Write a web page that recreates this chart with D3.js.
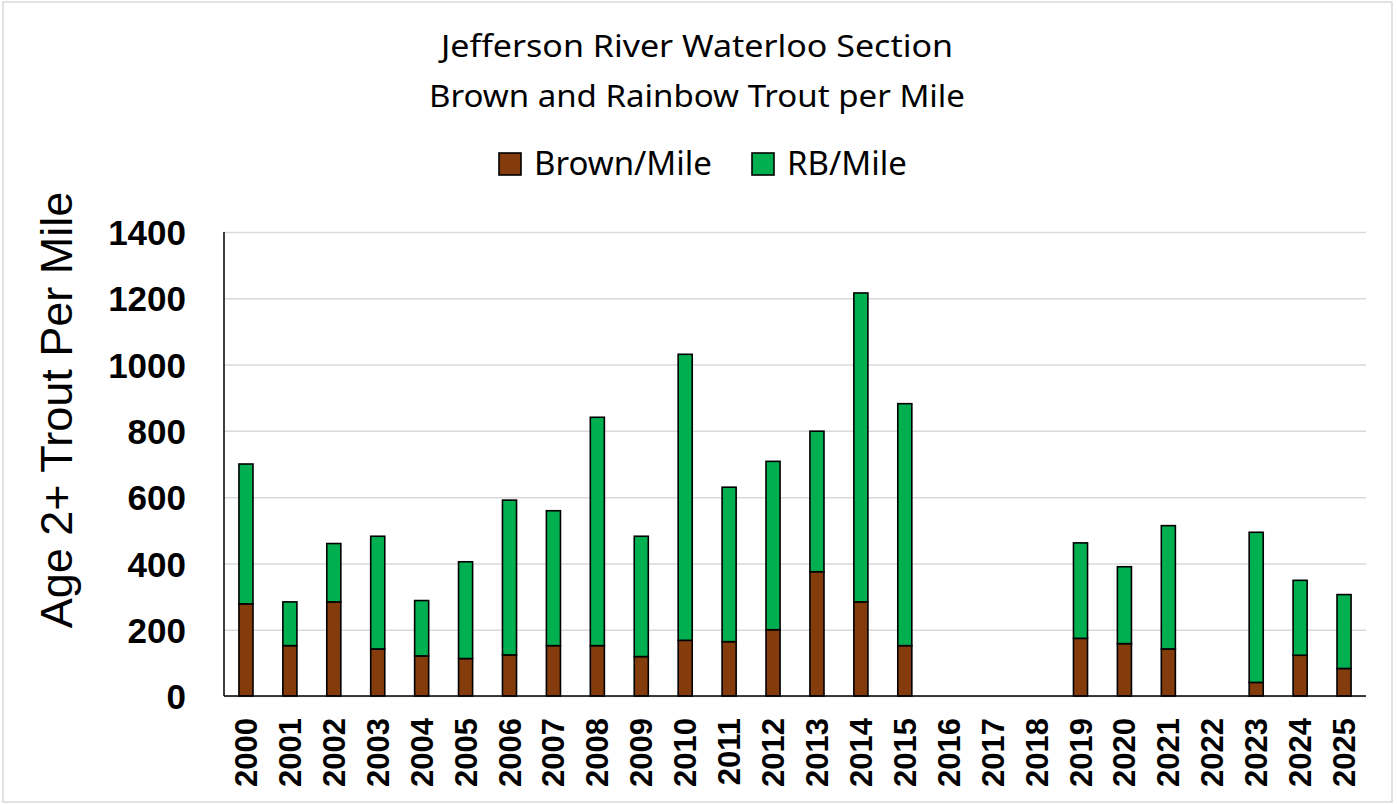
<!DOCTYPE html>
<html>
<head>
<meta charset="utf-8">
<script src="https://cdn.jsdelivr.net/npm/d3@7"></script>
<style>
  body { margin: 0; background: #fff; }
  svg { display: block; }
</style>
</head>
<body>
<svg width="1397" height="804"></svg>
<script>
// years along the bottom (2016-2018 and 2022 have no survey)
const years = ["2000","2001","2002","2003","2004","2005","2006","2007","2008","2009","2010","2011","2012",
  "2013","2014","2015","2016","2017","2018","2019","2020","2021","2022","2023","2024","2025"]

// brown trout per mile
const brown = [278,152,284,142,121,113,124,152,152,119,168,164,200,
  375,284,152,null,null,null,174,158,142,null,41,123,83]

// rainbow trout per mile (stacked on top)
const rainbow = [422,132,176,340,167,292,467,407,689,363,863,466,508,
  424,932,730,null,null,null,288,232,372,null,453,226,223]

const yTicks = [0,200,400,600,800,1000,1200,1400]

const seriesNames = ["Brown/Mile","RB/Mile"]
const seriesColors = ["#843C0C","#00B050"]

const svg = d3.select("svg")

// light frame round the chart
svg.append("rect")
  .attr("x", 3).attr("y", 2)
  .attr("width", 1389).attr("height", 800)
  .attr("fill", "#fff")
  .attr("stroke", "#d9d9d9")
  .attr("stroke-width", 1.5)

// scales
const scaleX = d3.scaleBand()
  .domain(years)
  .range([224, 1366])
  .paddingInner(0.68)
  .paddingOuter(0.34)

const scaleY = d3.scaleLinear()
  .domain([0, 1400])
  .range([696, 232])

// gridlines + y labels
const axisY = d3.axisLeft(scaleY)
  .tickValues(yTicks)
  .tickFormat(d3.format("d"))
  .tickSizeInner(-1142)
  .tickSizeOuter(0)
  .tickPadding(38)

const axisYGroup = svg.append("g")
  .attr("transform", "translate(224,0)")
  .call(axisY)

axisYGroup.select(".domain").remove()
axisYGroup.selectAll(".tick line")
  .attr("stroke", "#d9d9d9")
  .attr("stroke-width", 1.5)
axisYGroup.selectAll(".tick text")
  .attr("font-family", "'Liberation Sans', Arial, sans-serif")
  .attr("font-weight", "bold")
  .attr("font-size", 35)
  .attr("fill", "#000")
  .attr("dy", "0.36em")

// stacked data
const table = years.map((y, i) => ({ year: y, brown: brown[i], rainbow: rainbow[i] }))
  .filter(d => d.brown !== null)

const stacked = d3.stack().keys(["brown", "rainbow"])(table)

svg.append("g")
  .selectAll("g.series")
  .data(stacked)
  .enter()
  .append("g")
  .attr("class", "series")
  .attr("fill", (d, i) => seriesColors[i])
  .selectAll("rect")
  .data(d => d)
  .enter()
  .append("rect")
  .attr("x", d => scaleX(d.data.year))
  .attr("width", scaleX.bandwidth())
  .attr("y", d => scaleY(d[1]))
  .attr("height", d => scaleY(d[0]) - scaleY(d[1]))
  .attr("stroke", "#000")
  .attr("stroke-width", 1.6)

// axis lines
svg.append("line")
  .attr("x1", 224).attr("x2", 224)
  .attr("y1", 232).attr("y2", 696)
  .attr("stroke", "#000").attr("stroke-width", 1.5)
svg.append("line")
  .attr("x1", 224).attr("x2", 1366)
  .attr("y1", 696).attr("y2", 696)
  .attr("stroke", "#000").attr("stroke-width", 1.5)

// x labels, turned up
svg.append("g")
  .selectAll("text")
  .data(years)
  .enter()
  .append("text")
  .attr("transform", d => `translate(${scaleX(d) + scaleX.bandwidth() / 2 + 11}, 718) rotate(-90)`)
  .attr("text-anchor", "end")
  .attr("font-family", "'Liberation Sans', Arial, sans-serif")
  .attr("font-weight", "bold")
  .attr("font-size", 31)
  .text(d => d)

// y axis title
svg.append("text")
  .attr("transform", "translate(72,410) rotate(-90)")
  .attr("text-anchor", "middle")
  .attr("font-family", "'Liberation Sans', Arial, sans-serif")
  .attr("font-size", 45)
  .text("Age 2+ Trout Per Mile")

// chart title, two lines
const titleLines = ["Jefferson River Waterloo Section", "Brown and Rainbow Trout per Mile"]
const titleWidths = [512, 536]
svg.append("g")
  .selectAll("text")
  .data(titleLines)
  .enter()
  .append("text")
  .attr("x", (d, i) => 697 - titleWidths[i] / 2)
  .attr("y", (d, i) => 57 + i * 50)
  .attr("textLength", (d, i) => titleWidths[i])
  .attr("lengthAdjust", "spacingAndGlyphs")
  .attr("font-family", "'Noto Sans', sans-serif")
  .attr("font-size", 31)
  .text(d => d)

// legend
const legendX = [499, 752]
const legend = svg.append("g")
  .selectAll("g")
  .data(seriesNames)
  .enter()
  .append("g")
  .attr("transform", (d, i) => `translate(${legendX[i]},153)`)

legend.append("rect")
  .attr("width", 22).attr("height", 22)
  .attr("fill", (d, i) => seriesColors[i])
  .attr("stroke", "#000")
  .attr("stroke-width", 1.6)

legend.append("text")
  .attr("x", 35)
  .attr("y", 22)
  .attr("font-family", "'Noto Sans', sans-serif")
  .attr("font-size", 33)
  .text(d => d)
</script>
</body>
</html>
